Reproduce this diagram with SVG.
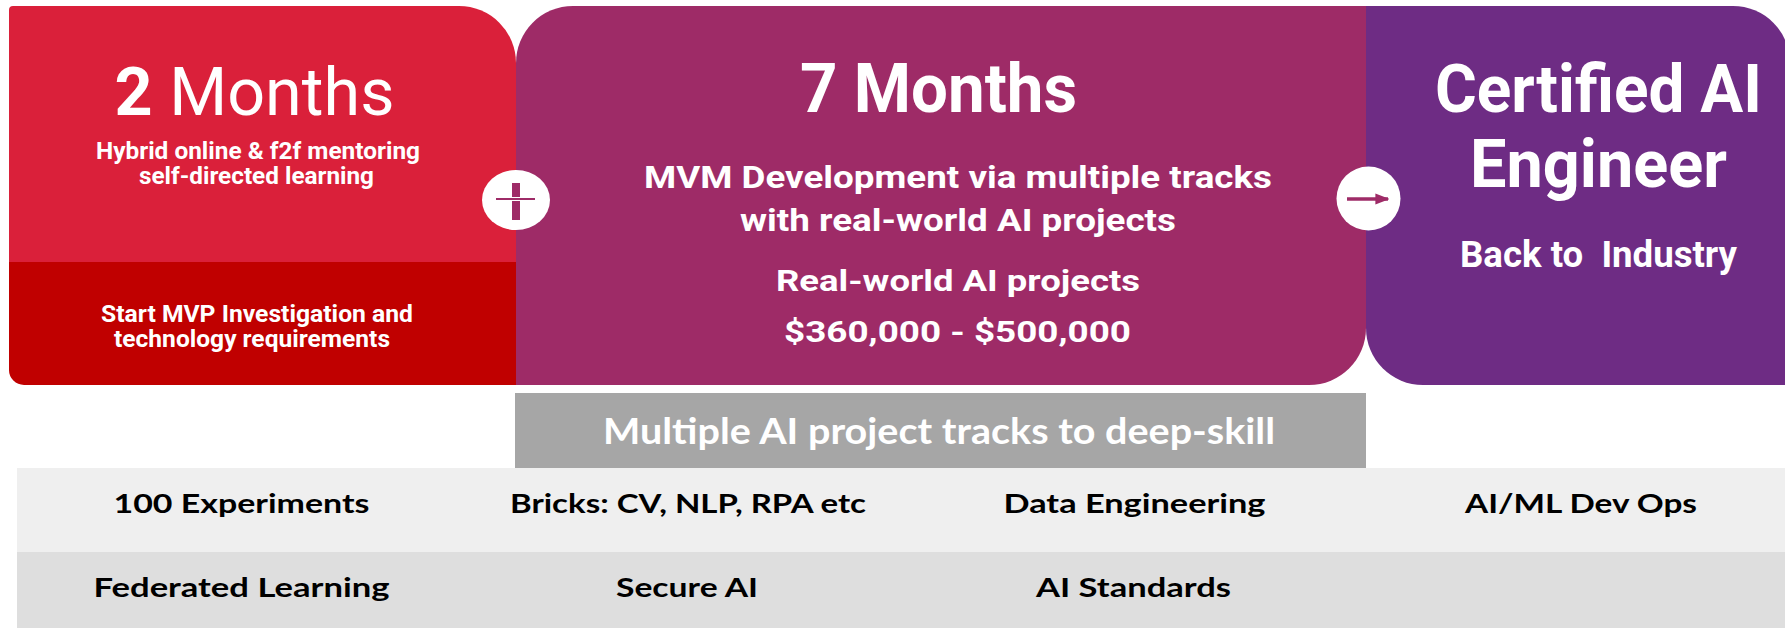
<svg xmlns="http://www.w3.org/2000/svg" width="1785" height="628" viewBox="0 0 1785 628">
<style>
.w{fill:#ffffff;font-family:Roboto,"Liberation Sans",sans-serif;text-anchor:middle}
.b{font-weight:700}
.k{fill:#000000;font-family:Lato,"Liberation Sans",sans-serif;font-weight:700;text-anchor:middle;font-size:27px}
.pre{white-space:pre}
</style>
<defs>
<marker id="ah" viewBox="0 0 10 10" refX="9" refY="5" markerWidth="4" markerHeight="4" orient="auto" markerUnits="strokeWidth">
<path d="M0,1 L10,5 L0,9 Z" fill="#9E2B67"/>
</marker>
</defs>
<rect width="1785" height="628" fill="#ffffff"/>

<g id="node-2months">
<path d="M13,6 H459 A57,57 0 0 1 516,63 V262 H9 V10 A4,4 0 0 1 13,6 Z" fill="#DA203A"/>
<path d="M9,262 H516 V385 H24 A15,15 0 0 1 9,370 Z" fill="#C00000"/>
<text class="w" x="254.5" y="115" font-size="66" textLength="280" lengthAdjust="spacingAndGlyphs"><tspan font-weight="700">2</tspan> Months</text>
<text class="w b" x="258" y="159" font-size="23" textLength="324" lengthAdjust="spacingAndGlyphs">Hybrid online &amp; f2f mentoring</text>
<text class="w b" x="256.5" y="184" font-size="23" textLength="235" lengthAdjust="spacingAndGlyphs">self-directed learning</text>
<text class="w b" x="257" y="322" font-size="23" textLength="312" lengthAdjust="spacingAndGlyphs">Start MVP Investigation and</text>
<text class="w b" x="252" y="347" font-size="23" textLength="276" lengthAdjust="spacingAndGlyphs">technology requirements</text>
</g>

<g id="node-7months">
<path d="M573,6 H1366 V328 A57,57 0 0 1 1309,385 H516 V63 A57,57 0 0 1 573,6 Z" fill="#9E2B67"/>
<text class="w b" x="938.5" y="112" font-size="68" textLength="277" lengthAdjust="spacingAndGlyphs">7 Months</text>
<text class="w b" x="958" y="188" font-size="31" textLength="628" lengthAdjust="spacingAndGlyphs">MVM Development via multiple tracks</text>
<text class="w b" x="958" y="231" font-size="31" textLength="436" lengthAdjust="spacingAndGlyphs">with real-world AI projects</text>
<text class="w b" x="958" y="291" font-size="29" textLength="364" lengthAdjust="spacingAndGlyphs">Real-world AI projects</text>
<text class="w b" x="957.5" y="342" font-size="29" textLength="347" lengthAdjust="spacingAndGlyphs">$360,000 - $500,000</text>
</g>

<g id="node-certified">
<path d="M1366,6 H1733 A57,57 0 0 1 1790,63 V385 H1423 A57,57 0 0 1 1366,328 Z" fill="#6E2C84"/>
<text class="w b" x="1598.5" y="112" font-size="66" textLength="327" lengthAdjust="spacingAndGlyphs">Certified AI</text>
<text class="w b" x="1598.5" y="187" font-size="66" textLength="257" lengthAdjust="spacingAndGlyphs">Engineer</text>
<text class="w b pre" x="1598.5" y="267" font-size="37" textLength="277" lengthAdjust="spacingAndGlyphs">Back to  Industry</text>
</g>

<g id="node-tracks-header">
<rect x="515" y="393" width="851" height="75" fill="#A6A6A6"/>
<text x="939" y="444" fill="#ffffff" font-family="Lato,'Liberation Sans',sans-serif" font-weight="700" font-size="36" text-anchor="middle" textLength="672" lengthAdjust="spacingAndGlyphs">Multiple AI project tracks to deep-skill</text>
</g>

<g id="node-row1">
<rect x="17" y="468" width="1768" height="84" fill="#EFEFEF"/>
<text class="k" x="241.5" y="513" textLength="256" lengthAdjust="spacingAndGlyphs">100 Experiments</text>
<text class="k" x="688" y="513" textLength="356" lengthAdjust="spacingAndGlyphs">Bricks: CV, NLP, RPA etc</text>
<text class="k" x="1134.5" y="513" textLength="262" lengthAdjust="spacingAndGlyphs">Data Engineering</text>
<text class="k" x="1581" y="513" textLength="232" lengthAdjust="spacingAndGlyphs">AI/ML Dev Ops</text>
</g>

<g id="node-row2">
<rect x="17" y="552" width="1768" height="76" fill="#DEDEDE"/>
<text class="k" x="241.5" y="597" textLength="296" lengthAdjust="spacingAndGlyphs">Federated Learning</text>
<text class="k" x="687" y="597" textLength="142" lengthAdjust="spacingAndGlyphs">Secure AI</text>
<text class="k" x="1133.5" y="597" textLength="195" lengthAdjust="spacingAndGlyphs">AI Standards</text>
</g>

<g id="connectors">
<g id="plus">
<ellipse cx="516" cy="200" rx="34" ry="30" fill="#ffffff"/>
<rect x="512" y="183" width="8" height="37" fill="#9E2B67"/>
<line x1="496" y1="199" x2="535" y2="199" stroke="#ffffff" stroke-width="4"/>
<line x1="496" y1="199" x2="535" y2="199" stroke="#9E2B67" stroke-width="2"/>
</g>
<g id="arrow">
<circle cx="1368.5" cy="198.5" r="32" fill="#ffffff"/>
<line x1="1347" y1="199" x2="1388" y2="199" stroke="#9E2B67" stroke-width="3.5" marker-end="url(#ah)"/>
</g>
</g>
</svg>
